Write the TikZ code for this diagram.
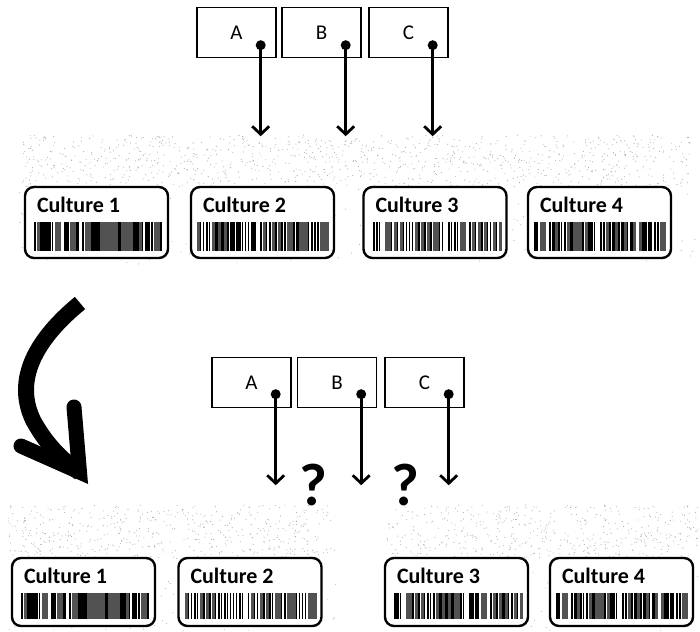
\documentclass[tikz,border=0pt]{standalone}
\usepackage{fontspec}
\setmainfont{Carlito}
\usetikzlibrary{arrows.meta,calc}

\definecolor{dotgray}{gray}{0.68}
\definecolor{bargray}{gray}{0.32}

\tikzset{
  letterbox/.style={draw, line width=1.4pt, minimum width=79pt, minimum height=50pt,
    inner sep=0pt, font=\fontsize{21}{21}\selectfont},
  culturebox/.style={draw, line width=2.4pt, rounded corners=9pt, fill=white,
    minimum width=143pt, inner sep=0pt},
  culturelabel/.style={font=\bfseries\fontsize{22}{22}\selectfont, anchor=base west, inner sep=0pt},
  probe/.style={line width=2.8pt, -{Straight Barb[length=8pt,width=17pt]}},
  query/.style={font=\bfseries\fontsize{60}{60}\selectfont, inner sep=0pt},
  bendarrow/.style={line width=16pt, line cap=butt}
}

% faint speckle: #1,#2 top-left corner, #3 width, #4 height, #5 number of specks
\newcommand\speckle[5]{%
  \foreach \i in {1,...,#5}{%
    \fill[dotgray] ({#1+#3*rnd},{#2+#4*rnd}) circle (0.55);
  }%
}

% barcode: #1,#2 top-left corner, #3 height, #4 seed
\newcommand\barcodestrip[4]{%
  \pgfmathsetseed{#4}%
  \foreach \k in {0,...,43}{%
    \pgfmathtruncatemacro\t{int(rnd*10)}%
    \pgfmathsetmacro\bx{#1+3*\k}%
    \ifcase\t
    \or \fill ({\bx},#2) rectangle ++(1.3,#3);
    \or \fill ({\bx},#2) rectangle ++(1.5,#3);
    \or \fill ({\bx},#2) rectangle ++(1.7,#3);
    \or \fill ({\bx},#2) rectangle ++(2.2,#3);
    \or \fill ({\bx},#2) rectangle ++(2.6,#3);
    \or \fill ({\bx},#2) rectangle ++(2.6,#3);
    \or \fill[bargray] ({\bx},#2) rectangle ++(3,#3);
    \or \fill[bargray] ({\bx},#2) rectangle ++(3,#3);
    \else \fill[bargray] ({\bx},#2) rectangle ++(3,#3);
    \fi
  }%
}

% culture tube label: #1 name, #2 cx, #3 cy, #4 height, #5 text, #6 seed
\newcommand\culturetag[6]{%
  \node[culturebox, minimum height=#4pt] (#1) at (#2,#3) {};
  \node[culturelabel] (#1-txt) at ($(#1.north west)+(13,27)$) {#5};
  \pgfmathsetmacro\cbx{#2-65.5}%
  \pgfmathsetmacro\cby{#3-#4/2+35}%
  \pgfmathsetmacro\cbh{#4-42}%
  \barcodestrip{\cbx}{\cby}{\cbh}{#6}%
}

\begin{document}
\begin{tikzpicture}[x=1pt,y=-1pt]
\useasboundingbox (0,0) rectangle (700,631);

% speckled backdrops
\pgfmathsetseed{11}
\speckle{22}{135}{672}{52}{900}
\speckle{18}{135}{680}{130}{350}
\speckle{8}{505}{328}{53}{450}
\speckle{8}{505}{328}{126}{170}
\speckle{386}{505}{312}{53}{430}
\speckle{386}{505}{312}{126}{160}

% first round: probes A, B, C
\node[letterbox] (A1) at (236.5,32.5) {A};
\node[letterbox] (B1) at (321.5,32.5) {B};
\node[letterbox] (C1) at (408.5,32.5) {C};
\foreach \p in {A1,B1,C1}{
  \coordinate (\p-pin) at ($(\p.south east)+(-16,-13)$);
  \coordinate (\p-end) at ($(\p-pin)+(0,91)$);
  \fill (\p-pin) circle (5);
  \draw[probe] (\p-pin) -- (\p-end);
}

\culturetag{k1}{96.5}{222.5}{71}{Culture 1}{3}
\culturetag{k2}{262.5}{222.5}{71}{Culture 2}{7}
\culturetag{k3}{435}{222.5}{71}{Culture 3}{13}
\culturetag{k4}{599.5}{222.5}{71}{Culture 4}{21}

% curved transition arrow
\draw[bendarrow] (80,303) .. controls (35,340) and (14,380) .. (33,420)
  .. controls (48,448) and (66,462) .. (80,473);
\draw[line width=15pt, line cap=round, line join=miter] (21,446) -- (79.5,472) -- (74,407);

% second round: probes A, B, C
\node[letterbox] (A2) at (251.5,382.5) {A};
\node[letterbox] (B2) at (337,382.5) {B};
\node[letterbox] (C2) at (424.5,382.5) {C};
\foreach \p in {A2,B2,C2}{
  \coordinate (\p-pin) at ($(\p.south east)+(-16,-14)$);
  \coordinate (\p-end) at ($(\p-pin)+(0,91)$);
  \fill (\p-pin) circle (5);
  \draw[probe] (\p-pin) -- (\p-end);
}
\node[query] (q1) at (313,485) {?};
\node[query] (q2) at (405,485) {?};

\culturetag{m1}{83.5}{592}{68}{Culture 1}{3}
\culturetag{m2}{250}{592}{68}{Culture 2}{7}
\culturetag{m3}{456.5}{592}{68}{Culture 3}{13}
\culturetag{m4}{621.5}{592}{68}{Culture 4}{21}
\end{tikzpicture}
\end{document}
